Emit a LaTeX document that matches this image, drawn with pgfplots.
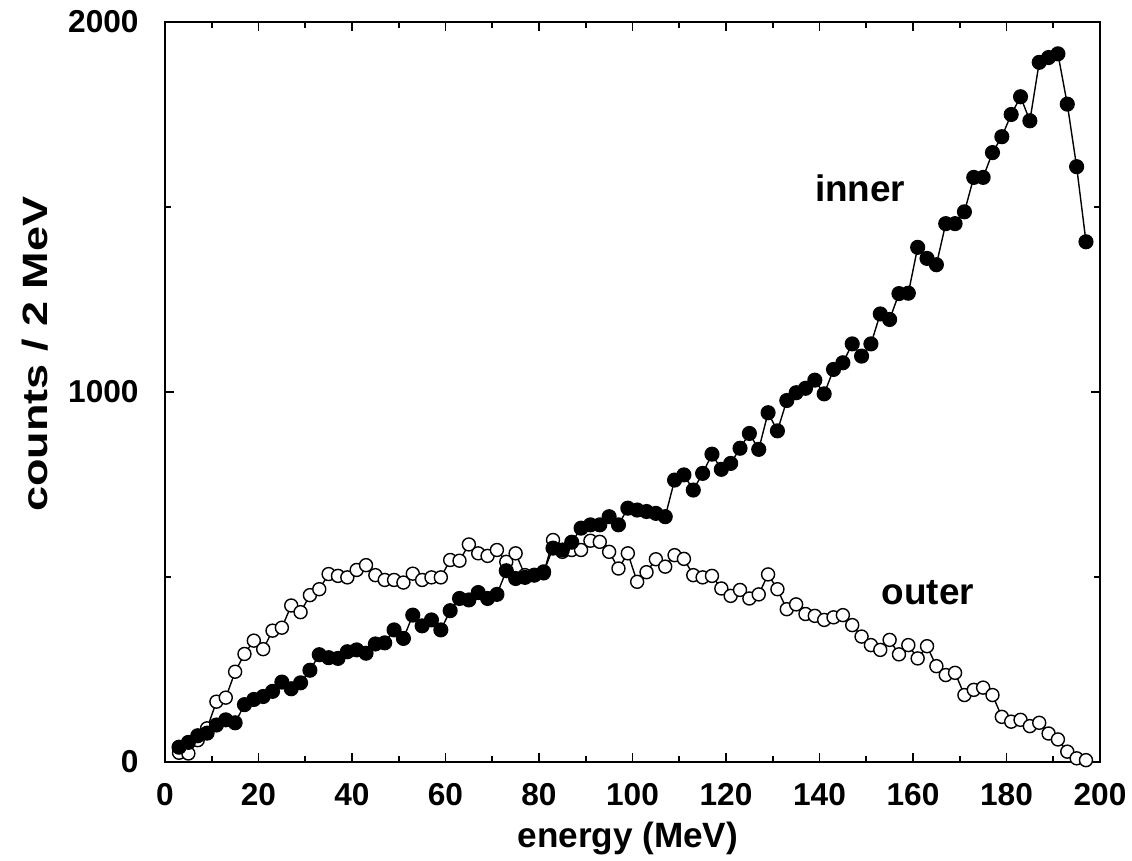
\documentclass[border=0pt]{standalone}
\usepackage{graphicx}
\usepackage{fontspec}
\setmainfont{Liberation Sans}
\usepackage{pgfplots}
\pgfplotsset{compat=1.18}
\usepackage{pgfplotstable}

\pgfplotstableread{
E    inner
3    40
5    53
7    71
9    78
11   100
13   114
15   106
17   155
19   169
21   177
23   191
25   216
27   198
29   214
31   248
33   290
35   282
37   280
39   298
41   303
43   294
45   319
47   322
49   357
51   334
53   397
55   368
57   384
59   357
61   409
63   442
65   438
67   458
69   442
71   453
73   517
75   496
77   499
79   505
81   514
83   578
85   573
87   594
89   632
91   641
93   641
95   663
97   641
99   686
101  681
103  677
105  672
107  663
109  762
111  776
113  735
115  780
117  832
119  791
121  807
123  848
125  888
127  845
129  944
131  895
133  977
135  998
137  1010
139  1032
141  995
143  1061
145  1079
147  1130
149  1097
151  1130
153  1211
155  1196
157  1266
159  1267
161  1391
163  1361
165  1344
167  1455
169  1455
171  1487
173  1580
175  1580
177  1647
179  1690
181  1750
183  1798
185  1733
187  1891
189  1904
191  1914
193  1778
195  1609
197  1406
}\innertable

\pgfplotstableread{
E    outer
3    25
5    23
7    59
9    91
11   163
13   174
15   244
17   292
19   328
21   305
23   355
25   363
27   423
29   405
31   451
33   467
35   508
37   503
39   499
41   519
43   532
45   505
47   492
49   492
51   485
53   509
55   492
57   499
59   499
61   546
63   544
65   588
67   564
69   557
71   573
73   541
75   564
77   505
79   505
81   510
83   600
85   568
87   573
89   573
91   598
93   595
95   568
97   523
99   564
101  487
103  513
105  548
107  528
109  559
111  549
113  505
115  499
117  503
119  469
121  449
123  465
125  442
127  453
129  507
131  467
133  413
135  426
137  400
139  395
141  384
143  391
145  397
147  370
149  339
151  316
153  303
155  330
157  291
159  316
161  280
163  313
165  259
167  235
169  241
171  181
173  195
175  201
177  181
179  122
181  109
183  114
185  97
187  106
189  77
191  61
193  28
195  10
197  5
}\outertable

\begin{document}
\begin{tikzpicture}
\useasboundingbox (-1.65,-0.98) rectangle (9.67,7.62);
\begin{axis}[
  scale only axis,
  width=9.35cm, height=7.4cm,
  xmin=0, xmax=200, ymin=0, ymax=2000,
  enlargelimits=false,
  axis line style={line width=0.6pt},
  xtick={0,20,...,200},
  minor x tick num=1,
  ytick={0,1000,2000},
  minor ytick={500,1500},
  tick align=inside,
  tick pos=both,
  major tick length=0.09cm,
  minor tick length=0.06cm,
  tick style={line width=0.5pt, black},
  /pgf/number format/assume math mode=true,
  /pgf/number format/1000 sep={},
  tick label style={font=\fontsize{9}{10}\selectfont\bfseries},
  yticklabel style={xshift=-0.14cm},
  xticklabel style={yshift=-0.09cm},
  xlabel={\fontsize{10}{12}\selectfont\bfseries energy (MeV)},
  xlabel style={at={(axis description cs:0.495,-0.115)}, anchor=base},
  ylabel={\scalebox{1.28}[1]{\fontsize{10}{12}\selectfont\bfseries counts / 2 MeV}},
  ylabel style={at={(axis description cs:-0.139,0.551)}, anchor=center},
]
\addplot[black, line width=0.4pt, mark=*, mark size=1.85pt,
  mark options={draw=black, fill=white, line width=0.4pt}]
  table[x=E, y=outer] {\outertable};
\addplot[black, line width=0.4pt, mark=*, mark size=1.95pt,
  mark options={draw=black, fill=black}]
  table[x=E, y=inner] {\innertable};
\node[font=\fontsize{10.5}{12}\selectfont\bfseries] at (axis cs:148.7,1551) {inner};
\node[font=\fontsize{10.5}{12}\selectfont\bfseries] at (axis cs:163.2,457) {outer};
\end{axis}
\end{tikzpicture}
\end{document}
